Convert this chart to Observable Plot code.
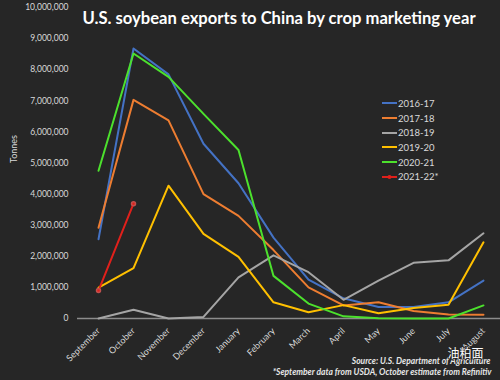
<!DOCTYPE html>
<html><head><meta charset="utf-8">
<script src="https://cdn.jsdelivr.net/npm/d3@7"></script>
<script src="https://cdn.jsdelivr.net/npm/@observablehq/plot@0.6"></script>
<style>
html,body{margin:0;padding:0;background:#262626;}
#wrap{position:relative;width:500px;height:380px;background:#262626;overflow:hidden;font-family:Lato,"Open Sans",sans-serif;}
#legend{position:absolute;left:382px;top:96px;color:#d9d9d9;font-size:9.5px;}
.li{display:flex;align-items:center;height:14.7px;}
.li svg{display:block;margin-right:1px;}
</style></head><body><div id="wrap"><div id="legend"></div></div>
<script>
const months = ["September","October","November","December","January","February","March","April","May","June","July","August"];
const seriesNames = ["2016-17","2017-18","2018-19","2019-20","2020-21","2021-22*"];
const seriesColors = ["#4472C4","#ED7D31","#A5A5A5","#FFC000","#4CE12D","#E0201B"];
const y2016_17 = [2550000, 8680000, 7850000, 5620000, 4350000, 2600000, 1250000, 650000, 370000, 370000, 520000, 1220000];
const y2017_18 = [2920000, 7030000, 6370000, 4000000, 3300000, 2200000, 1000000, 420000, 520000, 240000, 130000, 120000];
const y2018_19 = [0, 280000, 0, 50000, 1320000, 2030000, 1490000, 600000, 1220000, 1790000, 1870000, 2740000];
const y2019_20 = [990000, 1620000, 4270000, 2720000, 1980000, 520000, 200000, 430000, 170000, 340000, 440000, 2450000];
const y2020_21 = [4750000, 8520000, 7770000, 6580000, 5420000, 1370000, 480000, 70000, 10000, 0, 0, 420000];
const y2021_22 = [900000, 3690000];
const yTicks = [0,1000000,2000000,3000000,4000000,5000000,6000000,7000000,8000000,9000000,10000000];
const titleText = "U.S. soybean exports to China by crop marketing year";
const yLabel = "Tonnes";
const sourceLines = ["Source: U.S. Department of Agriculture", "*September data from USDA, October estimate from Refinitiv"];
const watermark = "油粕面";

const allSeries = [y2016_17, y2017_18, y2018_19, y2019_20, y2020_21, y2021_22];
const data = [];
allSeries.forEach((vals, i) => vals.forEach((v, j) => data.push({series: seriesNames[i], month: months[j], value: v})));
const redData = data.filter(d => d.series === "2021-22*");

const chart = Plot.plot({
  width: 500, height: 380,
  marginTop: 7, marginBottom: 62, marginLeft: 77, marginRight: 0,
  style: {background: "transparent", color: "#d9d9d9", fontFamily: "Lato, 'Open Sans', sans-serif", fontSize: "9px", overflow: "visible"},
  x: {type: "point", domain: months, range: [77, 503], padding: 0.5},
  y: {domain: [0, 10000000]},
  color: {domain: seriesNames, range: seriesColors},
  marks: [
    Plot.axisY({ticks: yTicks, tickFormat: d3.format(","), tickSize: 0, tickPadding: 9, label: null, fill: "#d9d9d9", fontSize: 8.5}),
    Plot.axisX({tickRotate: -45, tickSize: 0, tickPadding: 11, label: null, fill: "#d9d9d9", fontSize: 9}),
    Plot.ruleY([0], {stroke: "#8c8c8c", strokeWidth: 1.5}),
    Plot.line(data, {x: "month", y: "value", z: "series", stroke: "series", strokeWidth: 2}),
    Plot.dot(redData, {x: "month", y: "value", r: 2, fill: "#E0201B", stroke: "#C0504D"}),
    Plot.text([titleText], {frameAnchor: "top-left", dx: 5, dy: 4.5, fill: "#ffffff", fontWeight: "bold", fontSize: 16.6, lineAnchor: "top", textAnchor: "start"}),
    Plot.text([yLabel], {frameAnchor: "left", dx: -63, rotate: -90, fill: "#d9d9d9", fontSize: 9}),
    Plot.text([sourceLines[0]], {frameAnchor: "bottom-right", dx: -10, dy: 45, fill: "#e6e6e6", fontWeight: "bold", fontStyle: "italic", fontSize: 8.5, textAnchor: "end", lineAnchor: "bottom"}),
    Plot.text([sourceLines[1]], {frameAnchor: "bottom-right", dx: -9, dy: 56.5, fill: "#e6e6e6", fontWeight: "bold", fontStyle: "italic", fontSize: 8.5, textAnchor: "end", lineAnchor: "bottom"}),
    Plot.text([watermark], {frameAnchor: "bottom-right", dx: -17, dy: 39, fill: "#ffffff", stroke: "#262626", strokeWidth: 1.5, fontSize: 12, fontFamily: "'Noto Sans CJK SC', sans-serif", textAnchor: "end"})
  ]
});
document.getElementById("wrap").prepend(chart);
chart.style.position = "absolute"; chart.style.left = "0"; chart.style.top = "0";

const legend = d3.select("#legend");
seriesNames.forEach((name, i) => {
  const row = legend.append("div").attr("class", "li");
  const svg = row.append("svg").attr("width", 15).attr("height", 8);
  svg.append("line").attr("x1", 0).attr("x2", 15).attr("y1", 4).attr("y2", 4).attr("stroke", seriesColors[i]).attr("stroke-width", 2);
  if (i === 5) svg.append("circle").attr("cx", 7.5).attr("cy", 4).attr("r", 2).attr("fill", seriesColors[i]);
  row.append("span").text(name);
});
</script></body></html>
